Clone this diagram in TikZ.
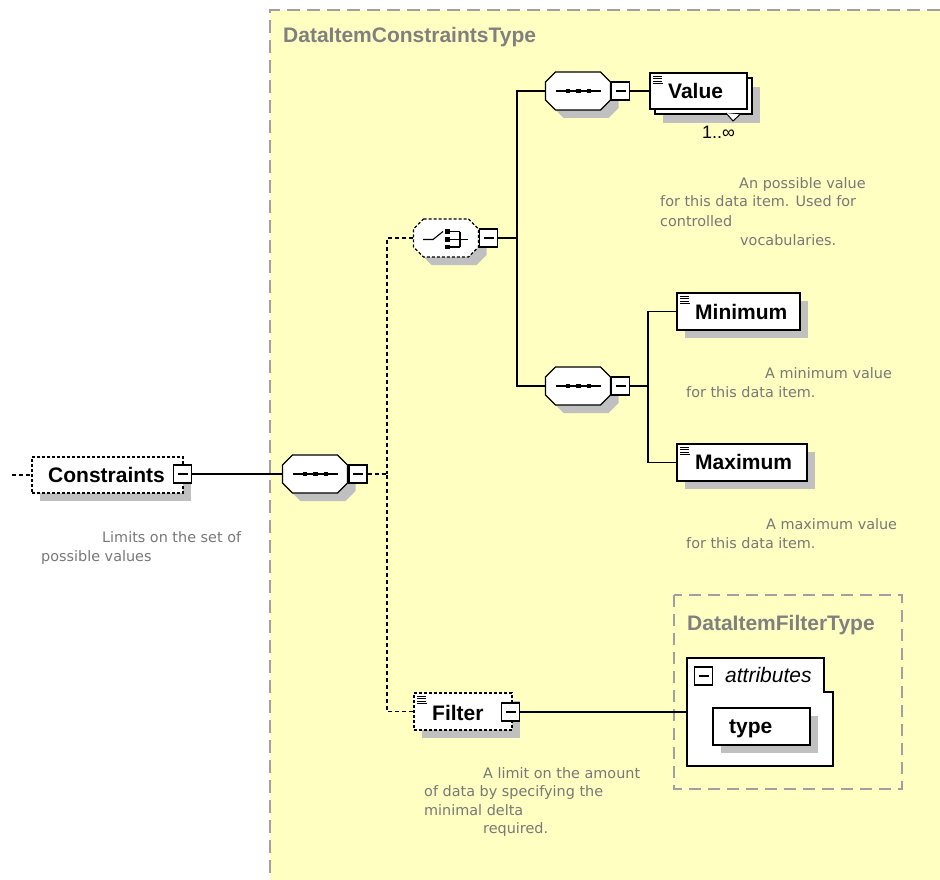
\documentclass[tikz,border=0pt]{standalone}
\usepackage{fontspec}
\setmainfont{Liberation Sans}
\newfontfamily\annfont{DejaVu Sans}
\usetikzlibrary{calc}
\definecolor{bgyellow}{RGB}{255,255,194}
\definecolor{shadowc}{RGB}{192,192,192}
\definecolor{framec}{RGB}{160,160,160}
\definecolor{hdrc}{RGB}{128,128,128}
\definecolor{annc}{RGB}{120,120,120}
\newcommand\octpath{(-22.5,-19) -- (22.5,-19) -- (32.5,-9) -- (32.5,9) -- (22.5,19) -- (-22.5,19) -- (-32.5,9) -- (-32.5,-9) -- cycle}
\newcommand\docicon[1]{\begin{scope}[shift={#1}]
  \draw[line width=0.8pt] (3,3.5)--(12,3.5) (3,5.8)--(12,5.8) (3,8.1)--(12,8.1) (3,10.4)--(13,10.4);
\end{scope}}
\tikzset{
 elem/.style={draw=black, line width=1.3pt, fill=white, rectangle, inner sep=0pt},
 optelem/.style={elem, line width=1.1pt, dash pattern=on 3pt off 2pt},
 minusbox/.style={draw=black, line width=1.2pt, fill=white, rectangle, minimum width=18pt, minimum height=18pt, inner sep=0pt},
 lbl/.style={font=\fontsize{21}{24}\selectfont\bfseries, inner sep=0pt, anchor=base west},
 hdr/.style={lbl, text=hdrc},
 ann/.style={font=\annfont\fontsize{14.4}{18}\selectfont, text=annc, inner sep=0pt, anchor=base west},
 conn/.style={line width=1.2pt, draw=black},
 optconn/.style={conn, line width=1.1pt, dash pattern=on 4pt off 3pt},
 octo/.style={draw=black, line width=1.3pt, fill=white},
 optocto/.style={octo, line width=1.1pt, dash pattern=on 3pt off 2pt},
 anchorbox/.style={rectangle, inner sep=0pt, minimum width=65pt, minimum height=38pt},
 shadowfill/.style={fill=shadowc, draw=none},
}
\begin{document}
\begin{tikzpicture}[x=1pt,y=-1pt]
\useasboundingbox (0,0) rectangle (940,880);
\clip (0,0) rectangle (940,880);
\fill[white] (0,0) rectangle (940,880);
% main container
\fill[bgyellow] (270,10) rectangle (960,900);
\draw[framec, line width=2pt, dash pattern=on 13pt off 7pt] (960,10) -- (270,10) -- (270,900);
\node[hdr] (hdrmain) at (283,43) {DataItemConstraintsType};

% Constraints element
\fill[shadowfill] (40,465) rectangle (191,501);
\node[optelem, minimum width=151pt, minimum height=36pt] (cons) at (107.5,475) {};
\node[lbl] (consT) at (48,482) {Constraints};
\node[minusbox] (mC) at (182.5,474) {\rule{10pt}{1.2pt}};
\coordinate (cin) at (12,475);
\draw[optconn] (cin) -- (cons.west);
\node[ann] (ca1) at (102,542) {Limits on the set of};
\node[ann] (ca2) at (41,561) {possible values};

% sequence 1
\begin{scope}[shift={(315,474)}]
  \fill[shadowfill, shift={(8,8)}] \octpath;
  \draw[octo] \octpath;
  \draw[line width=1.1pt] (-22,0) -- (23,0);
  \foreach \q in {-10,0.5,11} \fill (\q,0) +(-2.4,-2.4) rectangle +(2.4,2.4);
  \node[anchorbox] (seq1) at (0,0) {};
\end{scope}
\node[minusbox] (m1) at (358,474) {\rule{10pt}{1.2pt}};
\draw[conn] (mC.east) -- (seq1.west);
\coordinate (j1) at (387,474);
\draw[optconn] (m1.east) -- (j1);

% choice
\begin{scope}[shift={(446,238)}]
  \fill[shadowfill, shift={(8,8)}] \octpath;
  \draw[optocto] \octpath;
  \draw[line width=1.1pt] (-23,1.5) -- (-13,1.5) -- (-3,-6.5);
  \foreach \q in {-6.5,1.5,9} {
    \fill (1.5,\q) +(-2.2,-2.2) rectangle +(2.2,2.2);
    \draw[line width=1.1pt] (1.5,\q) -- (14,\q);
  }
  \draw[line width=1.1pt] (14,-6.5) -- (14,9) (14,1.5) -- (22,1.5);
  \node[anchorbox] (ch) at (0,0) {};
\end{scope}
\node[minusbox] (mCh) at (488.5,238) {\rule{10pt}{1.2pt}};
\draw[optconn] (ch.west) -| (j1);
\coordinate (j2) at (517,238);
\draw[conn] (mCh.east) -- (j2);

% sequence A
\begin{scope}[shift={(578,91)}]
  \fill[shadowfill, shift={(8,8)}] \octpath;
  \draw[octo] \octpath;
  \draw[line width=1.1pt] (-22,0) -- (23,0);
  \foreach \q in {-10,0.5,11} \fill (\q,0) +(-2.4,-2.4) rectangle +(2.4,2.4);
  \node[anchorbox] (seqA) at (0,0) {};
\end{scope}
\node[minusbox] (mA) at (620.5,91) {\rule{10pt}{1.2pt}};

% sequence B
\begin{scope}[shift={(578,386)}]
  \fill[shadowfill, shift={(8,8)}] \octpath;
  \draw[octo] \octpath;
  \draw[line width=1.1pt] (-22,0) -- (23,0);
  \foreach \q in {-10,0.5,11} \fill (\q,0) +(-2.4,-2.4) rectangle +(2.4,2.4);
  \node[anchorbox] (seqB) at (0,0) {};
\end{scope}
\node[minusbox] (mB) at (620.5,386) {\rule{10pt}{1.2pt}};
\draw[conn] (seqA.west) -| (j2);
\draw[conn] (seqB.west) -| (j2);

% Value element (repeating)
\fill[shadowfill] (663,87) rectangle (760,123);
\node[elem, minimum width=97pt, minimum height=36pt] (valback) at (703.5,96) {};
\filldraw[fill=white, draw=black, line width=1pt] (726,113) -- (733,121) -- (740,114.5);
\node[elem, minimum width=97pt, minimum height=36pt] (val) at (698.5,91) {};
\docicon{(650,73)}
\node[lbl] (valT) at (668,98.5) {Value};
\node[font=\fontsize{18}{20}\selectfont, inner sep=0pt, anchor=base west] (valM) at (702,139) {1..∞};
\draw[conn] (mA.east) -- (mA.east -| val.west);
\node[ann] (va1) at (739,188) {An possible value};
\node[ann] (va2) at (660,207) {for this data item. Used for};
\node[ann] (va3) at (660,226) {controlled};
\node[ann] (va4) at (740,245) {vocabularies.};

% Minimum / Maximum
\coordinate (j3) at (648,386);
\draw[conn] (mB.east) -- (j3);
\fill[shadowfill] (685,301) rectangle (808,338);
\node[elem, minimum width=123pt, minimum height=37pt] (minv) at (738.5,311.5) {};
\docicon{(677,293)}
\node[lbl] (minT) at (695,319) {Minimum};
\fill[shadowfill] (685,452) rectangle (815,489);
\node[elem, minimum width=130pt, minimum height=37pt] (maxv) at (742,462.5) {};
\docicon{(677,444)}
\node[lbl] (maxT) at (695,469) {Maximum};
\draw[conn] (minv.west) -| (j3);
\draw[conn] (maxv.west) -| (j3);
\node[ann] (mna1) at (765,378) {A minimum value};
\node[ann] (mna2) at (686,397) {for this data item.};
\node[ann] (mxa1) at (766,529) {A maximum value};
\node[ann] (mxa2) at (686,548) {for this data item.};

% Filter element
\fill[shadowfill] (422,701) rectangle (520,738);
\node[optelem, minimum width=98pt, minimum height=37pt] (filt) at (463,711.5) {};
\docicon{(414,693)}
\node[lbl] (filtT) at (432,720) {Filter};
\node[minusbox] (mF) at (510.5,712) {\rule{10pt}{1.2pt}};
\draw[optconn] (filt.west) -| (j1);
\node[ann] (fa1) at (483,778) {A limit on the amount};
\node[ann] (fa2) at (424,796.5) {of data by specifying the};
\node[ann] (fa3) at (424,815) {minimal delta};
\node[ann] (fa4) at (483,833.5) {required.};

% DataItemFilterType
\draw[framec, line width=1.5pt, dash pattern=on 12pt off 7pt] (674,595) rectangle (902,789);
\node[hdr] (hdrfilt) at (687,630) {DataItemFilterType};
\filldraw[fill=white, draw=black, line width=1.3pt] (687,658) -- (824,658) -- (824,692) -- (833,692) -- (833,766) -- (687,766) -- cycle;
\node[rectangle, inner sep=0pt, minimum width=146pt, minimum height=108pt] (attr) at (760,712) {};
\node[minusbox] (mAttr) at (703.5,676) {\rule{10pt}{1.2pt}};
\node[font=\fontsize{21}{24}\selectfont\itshape, inner sep=0pt, anchor=base west] (attrT) at (725,682) {attributes};
\fill[shadowfill] (721,716) rectangle (818,753);
\node[elem, minimum width=97pt, minimum height=37pt] (typ) at (761.5,726.5) {};
\node[lbl] (typT) at (729,733) {type};
\draw[conn] (mF.east) -- (attr.west);
\end{tikzpicture}
\end{document}
